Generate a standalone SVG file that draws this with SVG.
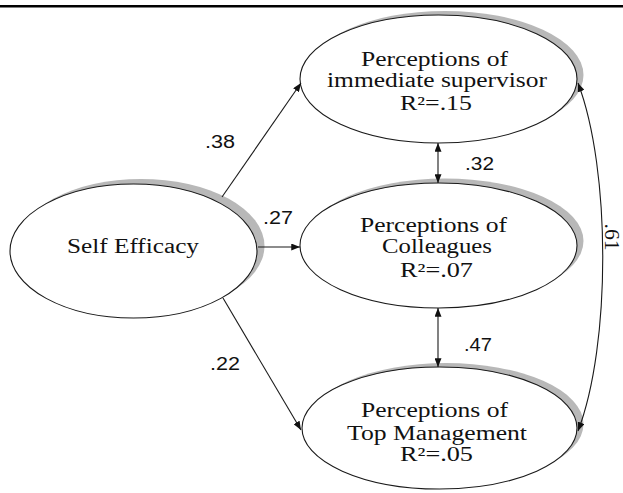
<svg xmlns="http://www.w3.org/2000/svg" width="623" height="493" viewBox="0 0 623 493">
  <style>
    .shadow { fill: #b8b8b8; stroke: none; }
    .node { fill: #ffffff; stroke: #1a1a1a; stroke-width: 1.1; }
    .label { font-family: "Liberation Serif", "Times New Roman", serif; font-size: 20px; fill: #111; text-anchor: middle; }
    .coef { font-family: "Liberation Sans", Arial, sans-serif; font-size: 18px; fill: #111; text-anchor: middle; }
    .edge { fill: none; stroke: #1a1a1a; stroke-width: 1.1; }
  </style>
  <defs>
    <marker id="head" viewBox="0 0 10 8" refX="10" refY="4" markerWidth="9" markerHeight="7" markerUnits="userSpaceOnUse" orient="auto-start-reverse">
      <path d="M0,0 L10,4 L0,8 Z" fill="#111"/>
    </marker>
  </defs>

  <!-- rule across the top -->
  <line x1="0" y1="6.2" x2="623" y2="6.2" stroke="#000" stroke-width="2.6"/>

  <g id="self-efficacy">
    <ellipse class="shadow" cx="141" cy="246" rx="123.5" ry="67"/>
    <ellipse class="node" cx="133.5" cy="251" rx="123.5" ry="67"/>
    <text class="label" x="133" y="253" textLength="132" lengthAdjust="spacingAndGlyphs">Self Efficacy</text>
  </g>

  <g id="supervisor">
    <ellipse class="shadow" cx="445" cy="75" rx="138.5" ry="64"/>
    <ellipse class="node" cx="438.5" cy="79" rx="138.5" ry="64"/>
    <text class="label" x="434.5" y="66" textLength="147" lengthAdjust="spacingAndGlyphs">Perceptions of</text>
    <text class="label" x="437" y="87" textLength="220" lengthAdjust="spacingAndGlyphs">immediate supervisor</text>
    <text class="label" x="436" y="110" textLength="72" lengthAdjust="spacingAndGlyphs">R²=.15</text>
  </g>

  <g id="colleagues">
    <ellipse class="shadow" cx="445" cy="241" rx="138.5" ry="62.5"/>
    <ellipse class="node" cx="438.5" cy="245.5" rx="138.5" ry="62.5"/>
    <text class="label" x="433.5" y="232" textLength="147" lengthAdjust="spacingAndGlyphs">Perceptions of</text>
    <text class="label" x="437" y="253" textLength="110" lengthAdjust="spacingAndGlyphs">Colleagues</text>
    <text class="label" x="436.5" y="277" textLength="73" lengthAdjust="spacingAndGlyphs">R²=.07</text>
  </g>

  <g id="top-management">
    <ellipse class="shadow" cx="446" cy="424" rx="137.5" ry="61"/>
    <ellipse class="node" cx="439.5" cy="428" rx="137.5" ry="61"/>
    <text class="label" x="434.5" y="417" textLength="147" lengthAdjust="spacingAndGlyphs">Perceptions of</text>
    <text class="label" x="437" y="440" textLength="180" lengthAdjust="spacingAndGlyphs">Top Management</text>
    <text class="label" x="436.5" y="461" textLength="73" lengthAdjust="spacingAndGlyphs">R²=.05</text>
  </g>

  <g id="connectors">
    <line class="edge" x1="222" y1="197" x2="301" y2="83" marker-end="url(#head)"/>
    <line class="edge" x1="258" y1="247" x2="300" y2="247" marker-end="url(#head)"/>
    <line class="edge" x1="223" y1="298" x2="301" y2="430" marker-end="url(#head)"/>
    <line class="edge" x1="438" y1="143" x2="438" y2="183" marker-start="url(#head)" marker-end="url(#head)"/>
    <line class="edge" x1="438" y1="308" x2="438" y2="367" marker-start="url(#head)" marker-end="url(#head)"/>
    <path class="edge" d="M578,83 C611,170 611,345 578,431" marker-start="url(#head)" marker-end="url(#head)"/>

    <text class="coef" x="220" y="148" textLength="30" lengthAdjust="spacingAndGlyphs">.38</text>
    <text class="coef" x="278" y="224" textLength="30" lengthAdjust="spacingAndGlyphs">.27</text>
    <text class="coef" x="225" y="370" textLength="30" lengthAdjust="spacingAndGlyphs">.22</text>
    <text class="coef" x="479.5" y="170" textLength="29" lengthAdjust="spacingAndGlyphs">.32</text>
    <text class="coef" x="478" y="351" textLength="28" lengthAdjust="spacingAndGlyphs">.47</text>
    <text class="label" transform="translate(611,237) rotate(90)" x="0" y="6" textLength="27" lengthAdjust="spacingAndGlyphs">.61</text>
  </g>
</svg>
